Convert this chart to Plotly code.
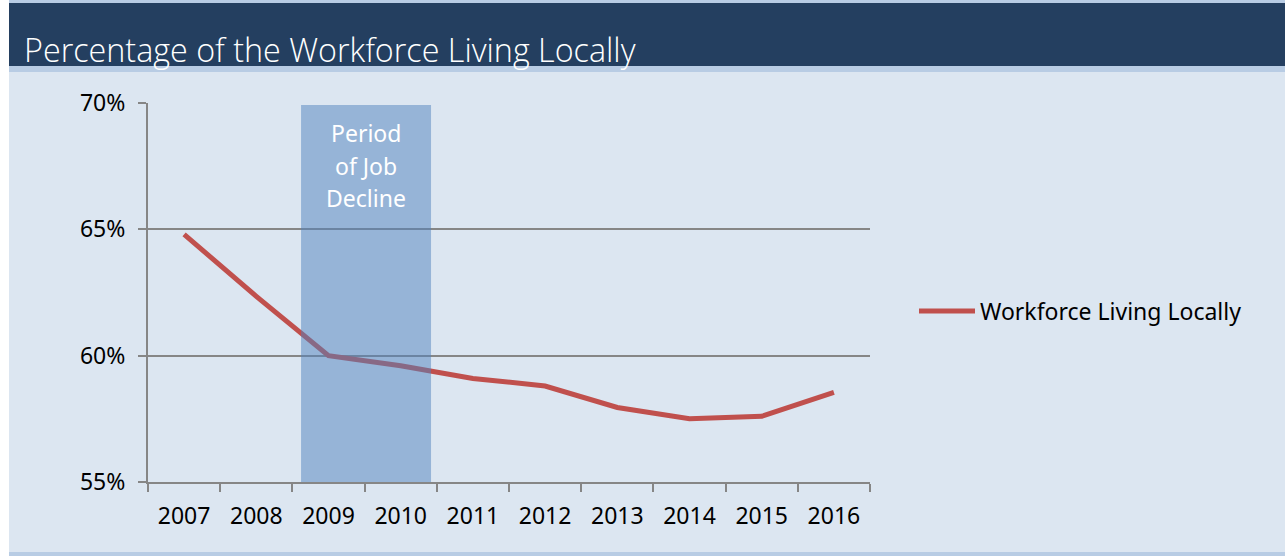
import plotly.graph_objects as go

years = ["2007", "2008", "2009", "2010", "2011", "2012", "2013", "2014", "2015", "2016"]
share_local = [64.8, 62.35, 60.0, 59.6, 59.1, 58.8, 57.95, 57.5, 57.6, 58.55]
y_ticks = [55, 60, 65, 70]
y_tick_labels = ["55%", "60%", "65%", "70%"]
band_lines = ["Period", "of Job", "Decline"]
decline_start = 1.62  # category-index positions of the shaded band
decline_end = 3.42

W, H = 1285, 556
L, R, T, B = 148, 870, 103, 482
pw, ph = R - L, B - T

def px(x):
    return (x - L) / pw

def py(y):
    return (B - y) / ph

font = "Noto Sans"
fs = 23
fig = go.Figure()
fig.add_trace(go.Scatter(
    x=years, y=share_local, mode="lines", name="Workforce Living Locally",
    line=dict(color="#C0504D", width=5),
))

shapes = [
    dict(type="rect", xref="paper", yref="paper", x0=px(0), x1=px(9), y0=py(556), y1=py(0),
         fillcolor="#FFFFFF", line_width=0, layer="below"),
    dict(type="rect", xref="paper", yref="paper", x0=px(9), x1=px(W), y0=py(556), y1=py(0),
         fillcolor="#B8CCE4", line_width=0, layer="below"),
    dict(type="rect", xref="paper", yref="paper", x0=px(9), x1=px(W), y0=py(552), y1=py(72),
         fillcolor="#DCE6F1", line_width=0, layer="below"),
    dict(type="rect", xref="paper", yref="paper", x0=px(9), x1=px(W), y0=py(66), y1=py(3),
         fillcolor="#243F60", line_width=0, layer="below"),
    dict(type="rect", xref="x", yref="paper", x0=decline_start, x1=decline_end,
         y0=0, y1=py(105), fillcolor="rgba(79,129,189,0.5)", line_width=0, layer="above"),
]

annotations = [
    dict(text="Percentage of the Workforce Living Locally", xref="paper", yref="paper",
         x=px(22), y=py(49), xanchor="left", yanchor="middle", showarrow=False,
         font=dict(family="Open Sans", size=32.3, color="#FFFFFF", weight=300)),
]
for i, t in enumerate(band_lines):
    annotations.append(dict(
        text=t, xref="x", yref="paper",
        x=(decline_start + decline_end) / 2, y=py(133 + 32.5 * i),
        xanchor="center", yanchor="middle", showarrow=False,
        font=dict(family=font, size=23, color="#FFFFFF")))

fig.update_layout(
    width=W, height=H,
    margin=dict(l=L, r=W - R, t=T, b=H - B),
    paper_bgcolor="#DCE6F1", plot_bgcolor="rgba(0,0,0,0)",
    shapes=shapes, annotations=annotations,
    showlegend=True,
    legend=dict(x=px(914), y=py(311), xanchor="left", yanchor="middle",
                bgcolor="rgba(0,0,0,0)", font=dict(family=font, size=fs, color="#000000"),
                itemwidth=56),
    font=dict(family=font, size=fs, color="#000000"),
)
fig.update_xaxes(
    type="category", range=[-0.5, 9.5], tickson="boundaries", ticks="outside", ticklen=8,
    tickcolor="#868686", tickwidth=2, showline=True, linecolor="#868686", linewidth=2,
    showgrid=False, tickfont=dict(family=font, size=fs), fixedrange=True,
    ticklabelstandoff=12,
)
fig.update_yaxes(
    range=[55, 70], tickvals=y_ticks, ticktext=y_tick_labels, ticks="outside", ticklen=8,
    tickcolor="#868686", tickwidth=2, showline=True, linecolor="#868686", linewidth=2,
    showgrid=True, gridcolor="#868686", gridwidth=2, zeroline=False,
    tickfont=dict(family=font, size=fs), fixedrange=True,
    ticklabelstandoff=8,
)
fig.write_html("out.html", config={"displayModeBar": False},
               post_script="document.body.style.margin='0';")
